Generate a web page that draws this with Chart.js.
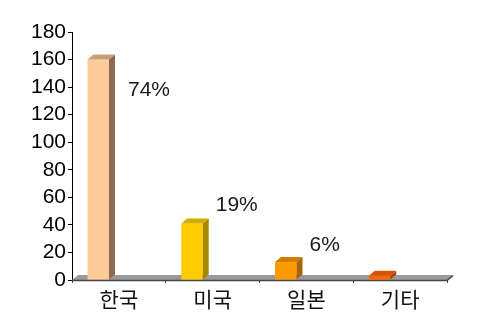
<!DOCTYPE html>
<html>
<head>
<meta charset="utf-8">
<script src="https://cdn.jsdelivr.net/npm/chart.js@4"></script>
<style>
  html, body { margin: 0; padding: 0; background: #fff; }
  #wrap { width: 480px; height: 336px; position: relative; }
</style>
</head>
<body>
<div id="wrap"><canvas id="canvasPais"></canvas></div>
<script>
// datos del grafico
var paises = ['한국', '미국', '일본', '기타'];
var valores = [160, 41, 13, 3];
var porcentajes = ['74%', '19%', '6%', ''];
var yTicks = [0, 20, 40, 60, 80, 100, 120, 140, 160, 180];

var colFrente = ['#FFCC99', '#FFCC00', '#FF9900', '#FF6600'];
var colLado = ['#8C6B4F', '#A88600', '#A86400', '#A84400'];
var colArriba = ['#C8A078', '#D6AC00', '#D07C00', '#D85200'];

var DX = 6, DY = 5;

// piso y caras 3D
var plugin3D = {
  id: 'plugin3D',
  beforeDatasetsDraw: function(chart){
    var ctx = chart.ctx, a = chart.chartArea;
    var y0 = chart.scales.y.getPixelForValue(0);
    ctx.save();
    ctx.fillStyle = '#9a9a9a';
    ctx.beginPath();
    ctx.moveTo(a.left, y0);
    ctx.lineTo(a.left + DX, y0 - DY);
    ctx.lineTo(a.right + DX, y0 - DY);
    ctx.lineTo(a.right, y0);
    ctx.closePath();
    ctx.fill();
    ctx.strokeStyle = '#444';
    ctx.lineWidth = 1.5;
    ctx.beginPath();
    ctx.moveTo(a.left, y0 + 0.5);
    ctx.lineTo(a.right, y0 + 0.5);
    ctx.lineTo(a.right + DX, y0 - DY + 0.5);
    ctx.stroke();
    ctx.restore();
  },
  afterDatasetsDraw: function(chart){
    var ctx = chart.ctx;
    var meta = chart.getDatasetMeta(0);
    ctx.save();
    meta.data.forEach(function(bar, i){
      var p = bar.getProps(['x', 'y', 'width', 'base'], true);
      var l = p.x - p.width / 2, r = p.x + p.width / 2, t = p.y, b = p.base;
      // lado
      ctx.fillStyle = colLado[i];
      ctx.beginPath();
      ctx.moveTo(r, t); ctx.lineTo(r + DX, t - DY); ctx.lineTo(r + DX, b - DY); ctx.lineTo(r, b);
      ctx.closePath(); ctx.fill();
      // arriba
      ctx.fillStyle = colArriba[i];
      ctx.beginPath();
      ctx.moveTo(l, t); ctx.lineTo(l + DX, t - DY); ctx.lineTo(r + DX, t - DY); ctx.lineTo(r, t);
      ctx.closePath(); ctx.fill();
    });
    // porcentajes
    var op = chart.options.plugins.plugin3D;
    ctx.fillStyle = '#1a1a1a';
    ctx.font = '21px "Liberation Sans", Arial, sans-serif';
    ctx.textAlign = 'left';
    ctx.textBaseline = 'middle';
    meta.data.forEach(function(bar, i){
      if(!porcentajes[i]) return;
      var p = bar.getProps(['x', 'width'], true);
      var x = p.x + p.width / 2 + DX + op.gap[i];
      ctx.fillText(porcentajes[i], x, chart.scales.y.getPixelForValue(op.etiquetaEn[i]));
    });
    ctx.restore();
  }
};

window.onload = function(){
  var ctx = document.getElementById('canvasPais').getContext('2d');
  window.myBar = new Chart(ctx, {
    type: 'bar',
    data: {
      labels: paises,
      datasets: [
        { data: valores, backgroundColor: colFrente, borderWidth: 0 },
        { data: valores.map(function(){ return null; }), backgroundColor: 'transparent' }
      ]
    },
    plugins: [plugin3D],
    options: {
      responsive: true,
      maintainAspectRatio: false,
      animation: false,
      categoryPercentage: 0.88,
      barPercentage: 0.52,
      layout: { padding: { top: 32, right: 33, left: 0, bottom: 0 } },
      plugins: {
        legend: { display: false },
        tooltip: { enabled: false },
        plugin3D: { etiquetaEn: [137.5, 54.5, 25.5, 0], gap: [13, 7, 7, 0] }
      },
      scales: {
        x: {
          grid: { display: true, drawOnChartArea: false, drawTicks: true, tickLength: 3, color: '#444', offset: true },
          border: { display: false },
          ticks: {
            padding: 3,
            autoSkip: false,
            color: '#111',
            font: { family: '"Noto Sans CJK KR", sans-serif', size: 21 }
          },
          afterFit: function(s){ s.height = 56; }
        },
        y: {
          min: 0,
          max: 180,
          afterBuildTicks: function(s){ s.ticks = yTicks.map(function(v){ return { value: v }; }); },
          grid: { display: true, drawOnChartArea: false, drawTicks: true, tickLength: 4, color: '#000' },
          border: { display: true, color: '#000', width: 1 },
          ticks: {
            padding: 2,
            autoSkip: false,
            color: '#000',
            font: { family: '"Liberation Sans", Arial, sans-serif', size: 21 }
          },
          afterFit: function(s){ s.width = 72; }
        }
      }
    }
  });
};
</script>
</body>
</html>
